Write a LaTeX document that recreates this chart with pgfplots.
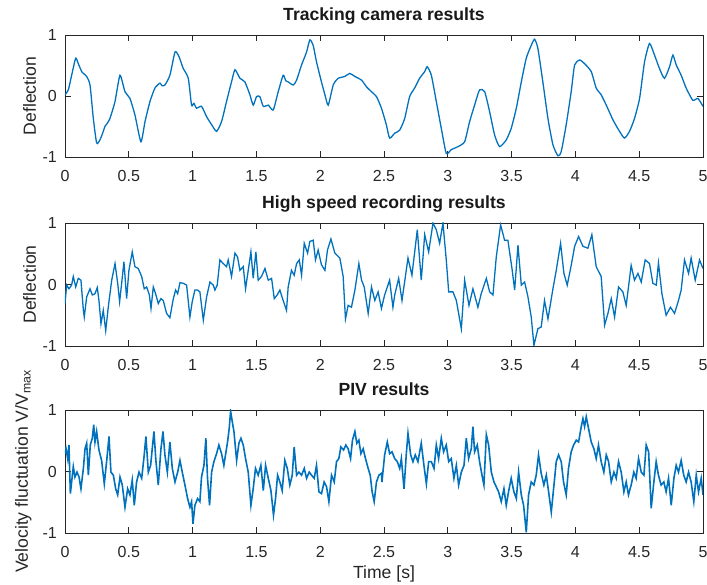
\documentclass[border=0pt]{standalone}
\usepackage{pgfplots}
\pgfplotsset{compat=1.18}
\usepackage{fontspec}
\setmainfont{Liberation Sans}
\definecolor{mblue}{RGB}{0,114,189}
\definecolor{mgray}{RGB}{38,38,38}
\pgfplotsset{
  panel/.style={
    scale only axis, width=638pt, anchor=south west,
    xmin=0, xmax=5, ymin=-1, ymax=1,
    xtick={0,0.5,1,1.5,2,2.5,3,3.5,4,4.5,5}, ytick={-1,0,1},
    xticklabels={0,0.5,1,1.5,2,2.5,3,3.5,4,4.5,5},
    yticklabels={-1,0,1},
    tick align=inside, major tick length=6.4pt,
    axis line style={mgray, line width=0.8pt},
    every tick/.style={mgray, line width=0.8pt},
    /pgf/number format/assume math mode=true,
    ticklabel style={font=\fontsize{16}{19}\selectfont, text=mgray, inner sep=0pt},
    xticklabel style={yshift=-13pt},
    yticklabel style={xshift=-8pt},
    title style={at={(axis description cs:0.5,1)}, anchor=base, yshift=8pt, font=\bfseries\fontsize{17.6}{21}\selectfont, text=black!90},
    every axis y label/.style={at={(axis description cs:-0.0455,0.5)}, rotate=90, anchor=base, font=\fontsize{17.6}{21}\selectfont, text=mgray},
    every axis x label/.style={at={(axis description cs:0.5,-0.374)}, anchor=base, font=\fontsize{17.6}{21}\selectfont, text=mgray},
  }
}
\begin{document}
\begin{tikzpicture}[x=1pt,y=1pt]
\path[use as bounding box] (0,0) rectangle (707,585);
% ---------- Panel 1 ----------
\begin{axis}[panel, height=122pt, at={(65pt,428pt)}, title={Tracking camera results}, ylabel={Deflection}]
\addplot[mblue, line width=1.3pt, smooth, tension=0.35] coordinates {
(0.000,0.02)(0.026,0.10)(0.052,0.34)(0.084,0.62)(0.104,0.53)(0.131,0.40)(0.150,0.36)(0.170,0.32)(0.196,0.18)
(0.222,-0.37)(0.248,-0.77)(0.274,-0.72)(0.300,-0.58)(0.313,-0.50)(0.330,-0.45)(0.352,-0.37)(0.392,-0.09)(0.431,0.34)
(0.470,0.07)(0.509,-0.04)(0.548,-0.31)(0.595,-0.75)(0.627,-0.42)(0.666,-0.09)(0.705,0.13)(0.744,0.21)
(0.760,0.17)(0.783,0.18)(0.822,0.34)(0.862,0.72)(0.888,0.67)(0.910,0.55)(0.927,0.45)(0.966,0.29)(0.992,-0.15)
(1.010,-0.12)(1.031,-0.20)(1.070,-0.17)(1.110,-0.34)(1.149,-0.47)(1.188,-0.58)(1.227,-0.42)(1.266,-0.09)
(1.305,0.23)(1.332,0.43)(1.371,0.29)(1.410,0.23)(1.449,0.02)(1.475,-0.15)(1.501,-0.01)(1.527,-0.01)
(1.554,-0.17)(1.593,-0.15)(1.632,-0.23)(1.671,0.07)(1.710,0.34)(1.730,0.25)(1.749,0.23)(1.789,0.18)(1.815,0.26)
(1.854,0.51)(1.893,0.72)(1.919,0.92)(1.945,0.83)(1.971,0.56)(2.010,0.23)(2.037,0.02)(2.063,-0.15)
(2.102,0.18)(2.141,0.29)(2.193,0.32)(2.232,0.37)(2.272,0.32)(2.324,0.26)(2.363,0.15)(2.402,0.07)
(2.441,-0.01)(2.480,-0.20)(2.518,-0.47)(2.544,-0.69)(2.584,-0.61)(2.623,-0.56)(2.662,-0.37)(2.701,-0.01)
(2.740,0.13)(2.779,0.29)(2.819,0.40)(2.839,0.48)(2.871,0.34)(2.910,-0.09)(2.949,-0.53)(2.988,-0.94)
(3.027,-0.88)(3.080,-0.83)(3.132,-0.75)(3.171,-0.42)(3.210,-0.15)(3.249,0.10)(3.289,0.07)(3.328,-0.26)
(3.367,-0.64)(3.406,-0.83)(3.458,-0.72)(3.497,-0.53)(3.537,-0.20)(3.576,0.23)(3.615,0.62)(3.654,0.83)
(3.680,0.93)(3.706,0.78)(3.745,0.23)(3.785,-0.37)(3.824,-0.80)(3.863,-0.98)(3.889,-0.91)(3.928,-0.47)
(3.967,0.07)(3.994,0.51)(4.033,0.59)(4.072,0.53)(4.124,0.40)(4.163,0.13)(4.202,0.02)(4.242,-0.15)
(4.294,-0.39)(4.346,-0.58)(4.385,-0.69)(4.424,-0.58)(4.463,-0.37)(4.503,-0.04)(4.542,0.56)(4.581,0.86)
(4.620,0.67)(4.659,0.45)(4.698,0.29)(4.738,0.48)(4.764,0.67)(4.790,0.51)(4.829,0.34)(4.868,0.13)
(4.920,-0.07)(4.960,-0.04)(5.000,-0.17)
};
\end{axis}
% ---------- Panel 2 ----------
\begin{axis}[panel, height=123pt, at={(65pt,239pt)}, title={High speed recording results}, ylabel={Deflection}]
\addplot[mblue, line width=1.3pt] coordinates {
(0.000,-0.31)(0.013,-0.01)(0.031,-0.07)(0.052,-0.01)(0.065,0.13)(0.084,-0.04)(0.104,0.10)(0.125,0.07)
(0.144,-0.42)(0.151,-0.53)(0.170,-0.20)(0.196,-0.07)(0.214,-0.17)(0.235,-0.15)(0.253,-0.05)(0.266,-0.26)
(0.282,-0.64)(0.300,-0.42)(0.319,-0.75)(0.339,-0.37)(0.366,0.07)(0.392,0.34)(0.413,0.02)(0.428,-0.28)
(0.444,0.02)(0.462,0.37)(0.483,-0.23)(0.501,0.23)(0.527,0.53)(0.548,0.29)(0.574,0.26)(0.601,0.13)
(0.621,-0.07)(0.640,-0.04)(0.661,-0.17)(0.674,-0.39)(0.692,-0.04)(0.710,-0.15)(0.731,-0.31)(0.752,-0.23)
(0.770,-0.26)(0.796,-0.47)(0.822,-0.54)(0.849,-0.23)(0.867,-0.09)(0.883,-0.15)(0.901,0.03)(0.927,0.02)
(0.953,-0.01)(0.979,-0.53)(0.997,-0.28)(1.018,-0.09)(1.039,-0.09)(1.057,-0.12)(1.084,-0.58)(1.110,-0.20)
(1.136,0.04)(1.162,-0.01)(1.175,-0.09)(1.193,-0.01)(1.214,0.40)(1.240,0.34)(1.266,0.29)(1.279,0.40)
(1.305,0.13)(1.332,0.51)(1.352,0.45)(1.371,0.23)(1.397,0.29)(1.415,-0.07)(1.436,0.23)(1.457,0.53)
(1.475,0.10)(1.496,0.53)(1.514,0.07)(1.540,0.13)(1.567,0.26)(1.593,0.07)(1.619,0.10)(1.640,-0.23)
(1.663,-0.17)(1.684,-0.09)(1.705,-0.23)(1.736,-0.42)(1.749,-0.04)(1.775,0.23)(1.796,0.15)(1.815,0.34)
(1.836,0.40)(1.854,0.15)(1.875,0.67)(1.901,0.51)(1.919,0.70)(1.945,0.72)(1.963,0.40)(1.984,0.56)
(2.010,0.32)(2.037,0.23)(2.057,0.56)(2.084,0.74)(2.115,0.51)(2.154,0.43)(2.180,0.13)(2.198,-0.56)
(2.219,-0.34)(2.245,-0.37)(2.272,-0.09)(2.303,0.34)(2.324,0.07)(2.345,-0.04)(2.376,-0.47)(2.402,-0.04)
(2.428,-0.26)(2.454,-0.12)(2.480,-0.39)(2.505,-0.17)(2.544,0.07)(2.570,-0.37)(2.584,-0.17)(2.615,0.10)
(2.641,-0.26)(2.688,0.43)(2.719,0.15)(2.761,0.89)(2.792,0.07)(2.819,0.81)(2.850,0.53)(2.884,1.00)
(2.910,0.89)(2.936,0.67)(2.962,1.00)(2.988,0.40)(3.007,-0.12)(3.040,-0.12)(3.067,-0.26)(3.106,-0.72)
(3.132,0.07)(3.166,-0.34)(3.197,-0.07)(3.236,-0.37)(3.262,-0.15)(3.302,0.10)(3.328,-0.12)(3.354,-0.17)
(3.380,0.45)(3.414,0.97)(3.445,0.72)(3.471,0.72)(3.503,0.26)(3.524,-0.09)(3.550,0.64)(3.576,-0.01)
(3.602,0.04)(3.628,-0.20)(3.654,-0.53)(3.675,-0.99)(3.706,-0.72)(3.732,-0.69)(3.758,-0.26)(3.785,-0.56)
(3.824,-0.07)(3.850,0.23)(3.884,0.67)(3.910,0.18)(3.936,-0.01)(3.967,0.31)(3.994,0.62)(4.025,0.78)
(4.059,0.62)(4.098,0.59)(4.129,0.81)(4.163,0.29)(4.202,0.13)(4.229,-0.66)(4.255,-0.47)(4.281,-0.23)
(4.307,-0.53)(4.338,-0.04)(4.372,-0.12)(4.398,-0.34)(4.437,0.31)(4.463,0.07)(4.490,0.18)(4.516,0.04)
(4.547,0.40)(4.581,0.34)(4.607,0.02)(4.634,-0.01)(4.651,0.35)(4.678,-0.15)(4.711,-0.50)(4.745,-0.37)
(4.777,-0.47)(4.808,-0.26)(4.829,-0.09)(4.855,0.40)(4.887,0.18)(4.907,0.43)(4.939,0.07)(4.973,0.40)
(5.000,0.26)
};
\end{axis}
% ---------- Panel 3 ----------
\begin{axis}[panel, height=123pt, at={(65pt,52pt)}, title={PIV results},
  ylabel={Velocity fluctuation V/V\textsubscript{max}},
  every axis y label/.append style={at={(axis description cs:-0.058,0.5)}},
  xlabel={Time [s]}]
\addplot[mblue, line width=1.6pt] coordinates {
(0.000,0.29)(0.008,0.37)(0.021,0.21)(0.031,0.43)(0.042,-0.36)(0.052,-0.17)(0.065,0.08)(0.078,-0.09)
(0.094,-0.01)(0.110,-0.09)(0.125,-0.28)(0.144,0.05)(0.157,0.37)(0.170,0.46)(0.183,-0.06)(0.198,0.43)
(0.214,0.54)(0.225,0.76)(0.235,0.48)(0.248,0.65)(0.266,0.35)(0.287,0.18)(0.308,-0.20)(0.326,0.16)
(0.345,0.57)(0.360,-0.01)(0.379,-0.06)(0.397,-0.28)(0.413,-0.38)(0.431,-0.09)(0.449,-0.22)(0.470,-0.58)
(0.491,-0.28)(0.509,-0.38)(0.527,-0.14)(0.543,-0.55)(0.561,-0.17)(0.580,-0.01)(0.601,-0.11)(0.621,0.27)
(0.634,0.57)(0.653,-0.01)(0.671,0.10)(0.697,0.65)(0.713,0.16)(0.731,-0.22)(0.752,0.37)(0.768,0.65)
(0.783,0.27)(0.802,-0.01)(0.822,0.48)(0.841,0.05)(0.862,-0.17)(0.883,-0.01)(0.901,0.18)(0.919,-0.01)
(0.940,-0.22)(0.961,-0.44)(0.979,-0.58)(0.992,-0.49)(1.003,-0.85)(1.018,-0.55)(1.039,-0.44)(1.057,-0.49)
(1.070,-0.09)(1.089,0.10)(1.104,0.54)(1.117,-0.11)(1.133,-0.55)(1.149,-0.01)(1.167,0.16)(1.188,0.29)
(1.206,0.43)(1.227,0.29)(1.245,0.10)(1.258,0.27)(1.274,0.48)(1.287,0.70)(1.298,0.98)(1.311,0.81)
(1.324,0.65)(1.345,0.18)(1.363,0.46)(1.379,0.54)(1.397,0.43)(1.415,0.21)(1.436,-0.01)(1.457,-0.55)
(1.475,-0.28)(1.493,0.05)(1.514,-0.06)(1.535,0.10)(1.554,-0.31)(1.572,0.10)(1.593,-0.11)(1.614,-0.31)
(1.634,-0.71)(1.650,-0.44)(1.666,-0.06)(1.684,-0.17)(1.702,-0.31)(1.723,0.18)(1.742,0.05)(1.762,-0.22)
(1.781,-0.06)(1.796,0.40)(1.815,-0.06)(1.833,-0.01)(1.854,-0.06)(1.875,0.05)(1.893,-0.11)(1.914,-0.01)
(1.932,-0.06)(1.953,-0.11)(1.971,0.10)(1.990,-0.33)(2.010,-0.36)(2.031,-0.17)(2.050,-0.25)(2.068,-0.49)
(2.089,-0.06)(2.110,-0.17)(2.128,0.16)(2.146,0.21)(2.162,0.40)(2.183,0.35)(2.201,0.43)(2.219,0.37)
(2.238,0.21)(2.253,0.51)(2.272,0.65)(2.287,0.46)(2.303,0.51)(2.319,0.29)(2.337,0.37)(2.355,0.21)
(2.376,0.05)(2.392,-0.06)(2.407,-0.33)(2.423,-0.49)(2.441,-0.17)(2.460,-0.06)(2.480,-0.03)
(2.484,-0.17)(2.505,0.27)(2.526,0.48)(2.544,0.29)(2.563,0.32)(2.584,0.21)(2.604,0.16)(2.623,0.05)
(2.636,0.21)(2.657,-0.28)(2.675,0.29)(2.688,0.62)(2.709,0.27)(2.727,0.16)(2.745,0.27)(2.766,0.16)
(2.792,0.46)(2.813,0.10)(2.832,-0.20)(2.850,0.16)(2.871,0.16)(2.892,0.05)(2.910,0.43)(2.928,0.21)
(2.949,0.54)(2.967,0.32)(2.988,0.43)(3.007,0.16)(3.027,0.21)(3.048,-0.11)(3.067,0.10)(3.085,-0.22)
(3.106,-0.01)(3.127,0.10)(3.145,0.54)(3.163,0.21)(3.184,0.37)(3.197,0.73)(3.210,0.32)(3.231,0.43)
(3.249,0.16)(3.268,-0.06)(3.283,-0.22)(3.302,0.60)(3.320,0.43)(3.341,-0.01)(3.362,-0.17)(3.380,-0.25)
(3.398,-0.33)(3.419,-0.49)(3.440,-0.28)(3.458,-0.55)(3.476,-0.33)(3.497,-0.11)(3.518,-0.33)(3.537,-0.44)
(3.555,-0.01)(3.576,-0.38)(3.594,-0.55)(3.615,-0.99)(3.633,-0.38)(3.654,-0.17)(3.675,-0.22)(3.693,-0.06)
(3.711,0.27)(3.732,-0.03)(3.753,-0.22)(3.772,-0.06)(3.790,-0.33)(3.811,-0.66)(3.832,-0.22)(3.850,0.16)
(3.868,0.27)(3.889,0.16)(3.907,-0.17)(3.928,-0.38)(3.946,0.05)(3.967,0.32)(3.986,0.43)(4.007,0.51)
(4.025,0.48)(4.046,0.73)(4.059,0.86)(4.072,0.73)(4.085,0.89)(4.103,0.70)(4.124,0.48)(4.145,0.37)
(4.163,0.21)(4.181,0.43)(4.202,0.16)(4.223,-0.01)(4.242,0.27)(4.260,0.16)(4.281,-0.17)(4.302,-0.01)
(4.320,-0.11)(4.338,0.16)(4.359,-0.01)(4.380,-0.33)(4.398,-0.17)(4.416,-0.38)(4.437,-0.22)(4.458,-0.01)
(4.476,-0.11)(4.495,0.21)(4.516,-0.01)(4.537,-0.06)(4.555,0.43)(4.574,0.32)(4.594,-0.60)(4.615,-0.17)
(4.633,0.16)(4.651,-0.06)(4.672,-0.22)(4.693,-0.17)(4.711,-0.33)(4.730,-0.11)(4.751,-0.55)(4.772,-0.11)
(4.790,0.10)(4.808,-0.01)(4.829,0.18)(4.849,-0.06)(4.868,-0.17)(4.887,-0.01)(4.907,-0.17)(4.928,-0.49)
(4.947,-0.06)(4.965,-0.33)(4.986,-0.11)(5.000,-0.38)
};
\end{axis}
\end{tikzpicture}
\end{document}
